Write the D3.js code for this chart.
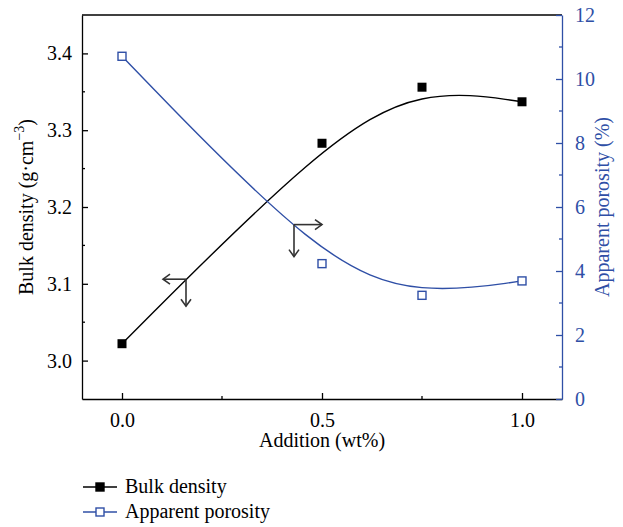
<!DOCTYPE html>
<html>
<head>
<meta charset="utf-8">
<script src="https://cdn.jsdelivr.net/npm/d3@7"></script>
<style>
  body { margin: 0; background: #fff; }
  .serif { font-family: "Liberation Serif" !important; }
</style>
</head>
<body>
<svg id="chart" width="623" height="527"></svg>
<script>
const additions = [0, 0.5, 0.75, 1.0];
const bulkDensity = [3.022, 3.283, 3.356, 3.337];
const apparentPorosity = [10.71, 4.23, 3.24, 3.69];
const xTicks = [0, 0.5, 1.0];
const xMinorTicks = [0.25, 0.75];
const leftTicks = [3.0, 3.1, 3.2, 3.3, 3.4];
const leftMinorTicks = [3.05, 3.15, 3.25, 3.35];
const rightTicks = [0, 2, 4, 6, 8, 10, 12];
const rightMinorTicks = [1, 3, 5, 7, 9, 11];

const WIDTH = 623, HEIGHT = 527;
const BLUE = "#2f4fa6";
const FS = 20;
const margin = {left: 82, top: 15, right: 61, bottom: 128};

const svg = d3.select("#chart");

const x = d3.scaleLinear().domain([-0.1, 1.1]).range([margin.left, WIDTH - margin.right]);
const yL = d3.scaleLinear().domain([2.95, 3.45]).range([HEIGHT - margin.bottom, margin.top]);
const yR = d3.scaleLinear().domain([0, 12]).range([HEIGHT - margin.bottom, margin.top]);

const x0 = x.range()[0], x1 = x.range()[1];
const yB = yL.range()[0], yT = yL.range()[1];

// frame: top line
svg.append("line").attr("x1", x0).attr("x2", x1).attr("y1", yT).attr("y2", yT)
    .attr("stroke", "#000").attr("stroke-width", 1.3);

// bottom axis
const gx = svg.append("g").attr("transform", `translate(0,${yB})`)
    .call(d3.axisBottom(x).tickValues(xTicks).tickSizeInner(-6).tickSizeOuter(0)
        .tickPadding(14).tickFormat(d3.format(".1f")));
gx.append("g").selectAll("line").data(xMinorTicks).join("line")
    .attr("x1", d => x(d)).attr("x2", d => x(d)).attr("y1", 0).attr("y2", -3);

// left axis
const gl = svg.append("g").attr("transform", `translate(${x0},0)`)
    .call(d3.axisLeft(yL).tickValues(leftTicks).tickSizeInner(-6).tickSizeOuter(0)
        .tickPadding(12).tickFormat(d3.format(".1f")));
gl.append("g").selectAll("line").data(leftMinorTicks).join("line")
    .attr("x1", 0).attr("x2", 3).attr("y1", d => yL(d)).attr("y2", d => yL(d));

// right axis
const gr = svg.append("g").attr("transform", `translate(${x1},0)`)
    .call(d3.axisRight(yR).tickValues(rightTicks).tickSizeInner(-6).tickSizeOuter(0)
        .tickPadding(13));
gr.append("g").selectAll("line").data(rightMinorTicks).join("line")
    .attr("x1", 0).attr("x2", -3).attr("y1", d => yR(d)).attr("y2", d => yR(d));

[gx, gl, gr].forEach(g => {
    g.attr("font-family", "Liberation Serif").attr("font-size", FS);
    g.select(".domain").attr("stroke-width", 1.3);
    g.selectAll("line").attr("stroke-width", 1.3);
});
gx.selectAll("line, .domain").attr("stroke", "#000");
gl.selectAll("line, .domain").attr("stroke", "#000");
gr.selectAll("line, .domain").attr("stroke", BLUE);
gr.selectAll("text").attr("fill", BLUE);
gl.selectAll(".tick text").attr("dx", 2);

// axis titles
svg.append("text")
    .attr("x", (x0 + x1) / 2).attr("y", 447)
    .attr("text-anchor", "middle")
    .text("Addition (wt%)");

const lt = svg.append("text")
    .attr("transform", `translate(33,${(yB + yT) / 2}) rotate(-90)`)
    .attr("text-anchor", "middle");
lt.append("tspan").text("Bulk density (g·cm");
lt.append("tspan").attr("font-size", 14).attr("dy", -9).text("−3");
lt.append("tspan").attr("dy", 9).text(")");

svg.append("text")
    .attr("transform", `translate(609,${(yB + yT) / 2}) rotate(-90)`)
    .attr("text-anchor", "middle").attr("fill", BLUE)
    .text("Apparent porosity (%)");

// curves
const bulkPts = additions.map((a, i) => [x(a), yL(bulkDensity[i])]);
const poroPts = additions.map((a, i) => [x(a), yR(apparentPorosity[i])]);
const curve = d3.line().curve(d3.curveBasis);

svg.append("path").attr("d", curve(bulkPts))
    .attr("fill", "none").attr("stroke", "#000").attr("stroke-width", 1.4);
svg.append("path").attr("d", curve(poroPts))
    .attr("fill", "none").attr("stroke", BLUE).attr("stroke-width", 1.4);

const S = 9;
svg.append("g").selectAll("rect").data(bulkPts).join("rect")
    .attr("x", d => d[0] - S / 2).attr("y", d => d[1] - S / 2)
    .attr("width", S).attr("height", S).attr("fill", "#000");
svg.append("g").selectAll("rect").data(poroPts).join("rect")
    .attr("x", d => d[0] - 4).attr("y", d => d[1] - 4)
    .attr("width", 8).attr("height", 8)
    .attr("fill", "#fff").attr("stroke", BLUE).attr("stroke-width", 1.4);

// axis indicator arrows
function cornerArrow(cx, cy, hx, dy) {
    const g = svg.append("g").attr("stroke", "#333").attr("stroke-width", 1.6).attr("fill", "none");
    const dir = Math.sign(hx);
    g.append("path").attr("d", `M${cx},${cy}H${cx + hx}`);
    g.append("path").attr("d", `M${cx + hx - dir * 7},${cy - 5}L${cx + hx},${cy}L${cx + hx - dir * 7},${cy + 5}`);
    g.append("path").attr("d", `M${cx},${cy}V${cy + dy}`);
    g.append("path").attr("d", `M${cx - 5},${cy + dy - 7}L${cx},${cy + dy}L${cx + 5},${cy + dy - 7}`);
}
cornerArrow(x(0.16), yL(3.106), -23, 27);
cornerArrow(x(0.43), yR(5.45), 28, 32);

// legend
const legend = svg.append("g");
const rows = [
    {name: "Bulk density", color: "#000", fill: "#000", y: 487},
    {name: "Apparent porosity", color: BLUE, fill: "#fff", y: 512}
];
rows.forEach(r => {
    legend.append("line").attr("x1", 83).attr("x2", 117).attr("y1", r.y).attr("y2", r.y)
        .attr("stroke", r.color).attr("stroke-width", 1.4);
    legend.append("rect").attr("x", 96).attr("y", r.y - 4).attr("width", 8).attr("height", 8)
        .attr("fill", r.fill).attr("stroke", r.color).attr("stroke-width", 1.4);
    legend.append("text").attr("x", 125).attr("y", r.y + 6).text(r.name);
});

svg.selectAll("text").classed("serif", true);
svg.selectAll("text:not([font-size])").filter(function() { return !this.closest(".tick"); })
    .attr("font-size", FS);
</script>
</body>
</html>
